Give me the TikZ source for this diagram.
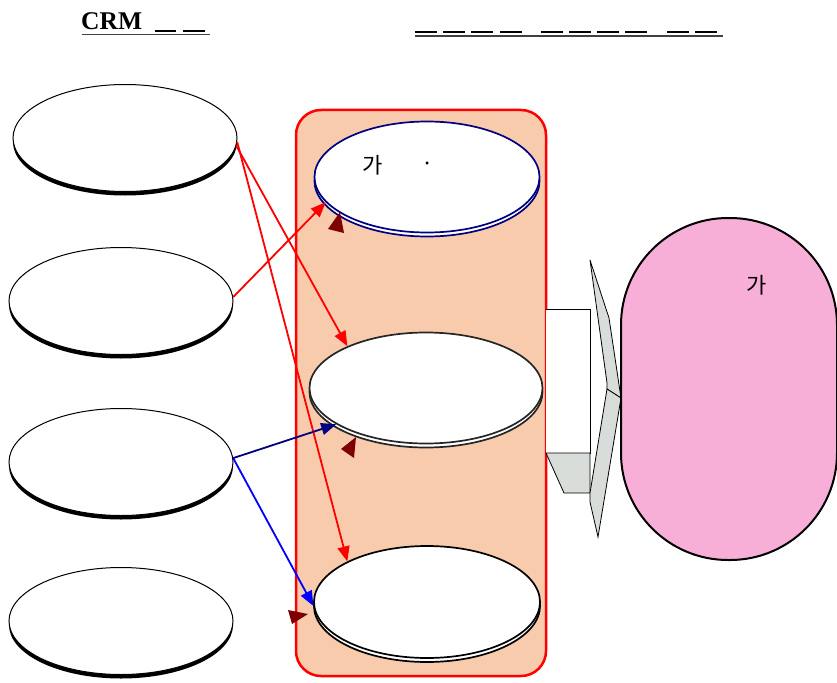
\documentclass[tikz,border=0pt]{standalone}
\usepackage{fontspec}
\setmainfont{Liberation Serif}
\newfontfamily\kr{Noto Sans CJK KR}
\usetikzlibrary{shapes.geometric,arrows.meta,shadows}
\definecolor{boxfill}{HTML}{F8CBAD}
\definecolor{pinkfill}{HTML}{F7AFD8}
\definecolor{greyarrow}{HTML}{D9DDDA}
\definecolor{darkred}{HTML}{7F0000}
\definecolor{navy}{HTML}{000080}
\begin{document}
\begin{tikzpicture}[x=1pt,y=-1pt,
  leftell/.style={ellipse, draw=black, line width=1pt, fill=white, inner sep=0pt,
     minimum width=224pt, minimum height=107pt,
     drop shadow={shadow xshift=0pt, shadow yshift=-4pt, opacity=1, fill=black}},
  midell/.style={ellipse, draw=#1, line width=1.7pt, fill=white, inner sep=0pt,
     drop shadow={shadow xshift=0pt, shadow yshift=-4pt, opacity=1, fill=white, draw=#1, line width=1.7pt}},
  conn/.style={line width=1.8pt, -{Triangle[length=15pt,width=12pt]}},
  krtext/.style={font=\kr\fontsize{22}{24}\selectfont, inner sep=0pt},
  dashbar/.style={line width=2.6pt},
  uline/.style={line width=1.6pt, draw=black!75}
]
\useasboundingbox (0,0) rectangle (837,682);

% titles
\node[anchor=base west, inner sep=0pt, font=\bfseries\fontsize{25.5}{27}\selectfont] (t1) at (81,29.5) {CRM};
\draw[dashbar] (155,31) -- (176,31) (183,31) -- (205,31);
\draw[uline] (82,34.5) -- (210,34.5);
\foreach \a in {415,443,471,500,541,569,597,625,667,695}
  \draw[dashbar] (\a,32) -- (\a+22,32);
\draw[uline] (415,36) -- (723,36);

% container
\node[draw=red, line width=2.5pt, fill=boxfill, rounded corners=25pt, inner sep=0pt,
      minimum width=250pt, minimum height=566pt] (box) at (421,393) {};

% block arrow
\draw[line width=0.8pt, fill=white] (546,309) -- (590,309) -- (590,453) -- (546,453);
\draw[line width=0.8pt, fill=greyarrow] (546,453) -- (590,453) -- (590,493) -- (564,493) -- cycle;
\draw[line width=0.8pt, fill=greyarrow] (590,260) -- (609,318) -- (621,398) -- (607,389) -- (607,383) -- cycle;
\draw[line width=0.8pt, fill=greyarrow] (607,389) -- (621,398) -- (598,537) -- (590,502) -- (590,493) -- cycle;

% pink stadium
\node[draw=black, line width=2pt, fill=pinkfill, rounded corners=107pt, inner sep=0pt,
      minimum width=216pt, minimum height=342pt] (pk) at (729,389) {};
\node[krtext] (pkt) at (757,285) {가};

% left ellipses
\node[leftell] (e1) at (125,138) {};
\node[leftell] (e2) at (121,301) {};
\node[leftell] (e3) at (121,462) {};
\node[leftell] (e4) at (121,621) {};

% middle ellipses
\node[midell=navy, minimum width=225pt, minimum height=111pt] (m1) at (427,177) {};
\node[krtext] (m1a) at (373,165) {가};
\node[krtext] (m1b) at (428,167) {·};
\node[midell=black!85, minimum width=233pt, minimum height=111pt] (m2) at (426,388) {};
\node[midell=black, minimum width=226pt, minimum height=112pt] (m3) at (427,602) {};

% connectors
\draw[conn, red] (e1.-4) -- (m2.152);
\draw[conn, red] (e1.-2) -- (m3.153);
\draw[conn, red] (e2.2) -- (m1.194);
\draw[conn, navy] (e3.2) -- (m2.202);
\draw[conn, blue] (e3.2) -- (m3.182);

% loose dark red arrowheads
\fill[darkred] (328,229) -- (344,233) -- (340,212) -- cycle;
\fill[darkred] (341,449) -- (354,458) -- (356,437) -- cycle;
\fill[darkred] (288,610) -- (292,624) -- (308,614) -- cycle;
\end{tikzpicture}
\end{document}
